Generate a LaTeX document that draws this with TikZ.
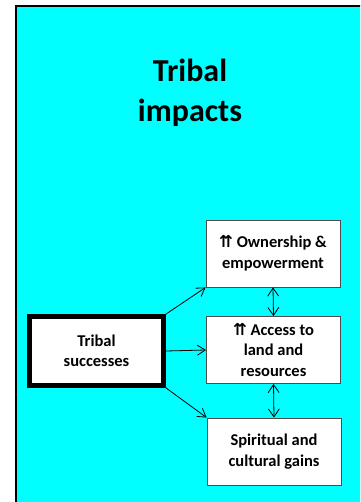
\documentclass[tikz,border=0pt]{standalone}
\usepackage{fontspec}
\setmainfont{Carlito}
\newfontfamily\symfont{DejaVu Sans}
\usetikzlibrary{arrows.meta}
\definecolor{bgcyan}{RGB}{0,255,255}
\newcommand{\upup}{{\symfont\bfseries ⇈}}
\tikzset{
  box/.style={draw=black!70, line width=0.9pt, fill=white, minimum width=134pt, minimum height=67pt,
    align=center, font=\fontsize{16.5}{20.5}\selectfont\bfseries, inner sep=0pt},
  mainbox/.style={draw=black, line width=4.5pt, fill=white, minimum width=134pt, minimum height=69pt,
    align=center, font=\fontsize{16.5}{20.5}\selectfont\bfseries, inner sep=0pt},
  arr/.style={line width=0.8pt, -{Straight Barb[length=8pt,width=10pt]}},
  darr/.style={line width=0.8pt, {Straight Barb[length=8pt,width=11pt]}-{Straight Barb[length=8pt,width=11pt]}}
}
\begin{document}
\begin{tikzpicture}[x=1pt,y=1pt]
\useasboundingbox (0,0) rectangle (360,-502);
\clip (0,0) rectangle (360,-502);
\fill[bgcyan] (16,-6) rectangle (420,-560);
\draw[black, line width=1.5pt] (16,-560) -- (16,-6) -- (420,-6);
\node[font=\fontsize{32}{40}\selectfont\bfseries, align=center] (title) at (190,-93) {Tribal\\impacts};
\node[mainbox] (succ) at (96.5,-351) {Tribal\\successes};
\node[box] (own) at (273,-253.5) {\upup{} Ownership \&\\empowerment};
\node[box] (acc) at (273.5,-350) {\upup{} Access to\\land and\\resources};
\node[box] (spir) at (274,-451.5) {Spiritual and\\cultural gains};
\draw[arr] (succ.north east) -- (own.south west);
\draw[arr] (succ.east) -- (acc.west);
\draw[arr] (succ.south east) -- (spir.north west);
\draw[darr] (own.south) -- (acc.north);
\draw[darr] (acc.south) -- (spir.north);
\end{tikzpicture}
\end{document}
